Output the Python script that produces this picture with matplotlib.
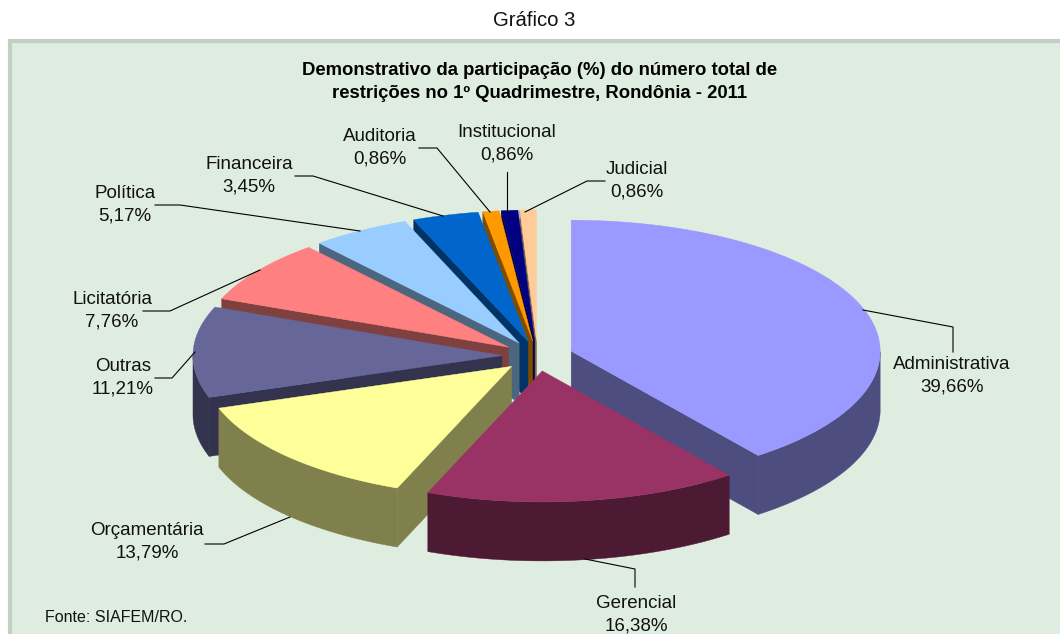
import matplotlib
matplotlib.use('Agg')
import matplotlib.pyplot as plt
from matplotlib.patches import Polygon, Rectangle
import numpy as np

plt.rcParams['font.family'] = ['Liberation Sans', 'DejaVu Sans']

categories = ['Administrativa', 'Gerencial', 'Orçamentária', 'Outras', 'Licitatória',
              'Política', 'Financeira', 'Auditoria', 'Institucional', 'Judicial']
values = [39.66, 16.38, 13.79, 11.21, 7.76, 5.17, 3.45, 0.86, 0.86, 0.86]
top_colors = ['#9999FF', '#993366', '#FFFF99', '#666699', '#FF8080',
              '#99CCFF', '#0066CC', '#FF9900', '#000080', '#FFCC99']
side_colors = ['#4D4D80', '#4D1A33', '#80804D', '#33334D', '#804040',
               '#4D6680', '#003366', '#804D00', '#000040', '#806650']

# pie geometry, in pixels
cx, cy = 537.5, 356
rx, ry = 309, 131
depth = 59
explode = 0.115

# label centre and leader line for each slice
label_pos = [(952, 376), (636, 615), (147, 542), (123, 378), (112, 311),
             (125, 205), (249, 176), (380, 148), (507, 144), (637, 181)]
leaders = [[(863, 310), (953, 327), (953, 352)],
           [(585, 559), (635, 569), (635, 587)],
           [(290, 517), (224, 544), (205, 544)],
           [(195, 352), (172, 378), (155, 378)],
           [(260, 270), (170, 311), (143, 311)],
           [(360, 231), (180, 205), (155, 205)],
           [(443, 216), (313, 176), (295, 176)],
           [(490, 212), (437, 148), (419, 148)],
           [(507, 212), (507, 172)],
           [(525, 212), (587, 181), (605, 181)]]

fig = plt.figure(figsize=(10.6, 6.34), dpi=100)
ax = fig.add_axes([0, 0, 1, 1])
ax.set_xlim(0, 1060)
ax.set_ylim(634, 0)
ax.axis('off')

ax.add_patch(Rectangle((9.5, 40.5), 1060, 640, facecolor='#DFEDE0', edgecolor='#C3CFC3', linewidth=3))

ax.text(534, 21, 'Gráfico 3', ha='center', va='center', fontsize=14.6, color='#111111')
ax.text(540, 82, 'Demonstrativo da participação (%) do número total de\nrestrições no 1º Quadrimestre, Rondônia - 2011',
        ha='center', va='center', fontsize=13.3, fontweight='bold', linespacing=1.43)


def point(tx, ty, t, r=1.0):
    return tx + r * rx * np.sin(t), ty - r * ry * np.cos(t)


ends = np.cumsum(values) / np.sum(values) * 2 * np.pi
starts = np.concatenate([[0], ends[:-1]])
mids = (starts + ends) / 2

# back slices first, front slices paint over them
for i in np.argsort(-np.cos(mids)):
    t1, t2 = starts[i], ends[i]
    tx, ty = point(cx, cy, mids[i], explode)
    ts = np.linspace(t1, t2, 200)
    arc = np.array([point(tx, ty, t) for t in ts])

    # straight walls that face the viewer
    for t, seen in [(t1, np.sin(t1) < 0), (t2, np.sin(t2) > 0)]:
        if seen:
            ex, ey = point(tx, ty, t)
            ax.add_patch(Polygon([(tx, ty), (ex, ey), (ex, ey + depth), (tx, ty + depth)],
                                 facecolor=side_colors[i], edgecolor=side_colors[i], linewidth=0.3))

    # outer wall, only the front half of the ellipse
    front = arc[np.cos(ts) < 0]
    if len(front) > 1:
        wall = np.vstack([front, (front + [0, depth])[::-1]])
        ax.add_patch(Polygon(wall, facecolor=side_colors[i], edgecolor=side_colors[i], linewidth=0.3))

    ax.add_patch(Polygon(np.vstack([[tx, ty], arc]), facecolor=top_colors[i],
                         edgecolor=top_colors[i], linewidth=0.3))

for i, name in enumerate(categories):
    xs, ys = zip(*leaders[i])
    ax.plot(xs, ys, color='black', linewidth=0.8)
    text = name + '\n' + ('%.2f%%' % values[i]).replace('.', ',')
    ax.text(label_pos[i][0], label_pos[i][1], text, ha='center', va='center',
            fontsize=13.5, linespacing=1.45, color='#111111')

ax.text(45, 617, 'Fonte: SIAFEM/RO.', ha='left', va='center', fontsize=11.5, color='#111111')

fig.savefig('out.png', dpi=100)
